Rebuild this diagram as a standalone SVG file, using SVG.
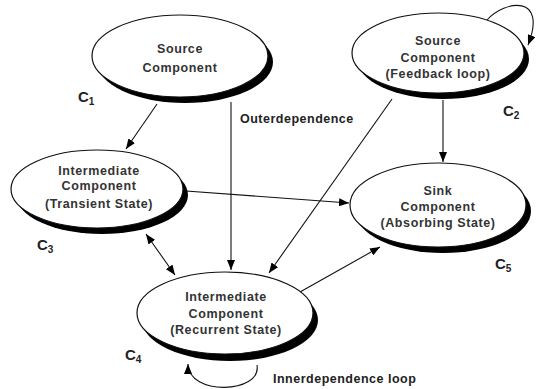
<svg xmlns="http://www.w3.org/2000/svg" width="536" height="389" viewBox="0 0 536 389">
<defs>
<marker id="ah" viewBox="0 0 10 8" refX="10" refY="4" markerWidth="10" markerHeight="8" markerUnits="userSpaceOnUse" orient="auto-start-reverse">
<path d="M0,0 L10,4 L0,8 Z" fill="#000"/>
</marker>
<style>
.sh{fill:#000}
.el{fill:#fff;stroke:#111;stroke-width:1.2}
.t{font-family:"Liberation Sans",Arial,sans-serif;font-size:12.5px;font-weight:bold;fill:#333;text-anchor:middle;letter-spacing:0.6px}
.lb{font-family:"Liberation Sans",Arial,sans-serif;font-size:12.5px;font-weight:bold;fill:#222;letter-spacing:0.5px}
.c{font-family:"Liberation Sans",Arial,sans-serif;font-size:15px;font-weight:bold;fill:#222}
.cs{font-size:10px}
.ln{fill:none;stroke:#111;stroke-width:1.1}
</style>
</defs>
<rect width="536" height="389" fill="#fff"/>
<g id="connectors">
<path class="ln" d="M157,104 L126,149" marker-end="url(#ah)"/>
<path class="ln" d="M231,102 L231,270" marker-end="url(#ah)"/>
<path class="ln" d="M392,99 L269,273" marker-end="url(#ah)"/>
<path class="ln" d="M443,100 L443,162" marker-end="url(#ah)"/>
<path class="ln" d="M186,191 L349,203" marker-end="url(#ah)"/>
<path class="ln" d="M146,234 L175,275" marker-start="url(#ah)" marker-end="url(#ah)"/>
<path class="ln" d="M300,292 L380,247" marker-end="url(#ah)"/>
<path class="ln" d="M257,365 C262,394 188,396 188,364" marker-end="url(#ah)"/>
<path class="ln" d="M487,20 C505,0 548,-6 528,45" marker-end="url(#ah)"/>
</g>
<g id="c1">
<ellipse class="sh" cx="185" cy="62" rx="88" ry="41"/>
<ellipse class="el" cx="180" cy="56" rx="88" ry="41"/>
<text class="t" x="180" y="53">Source</text>
<text class="t" x="180" y="72">Component</text>
<text class="c" x="78" y="102">C<tspan class="cs" dy="3">1</tspan></text>
</g>
<g id="c2">
<ellipse class="sh" cx="443" cy="59" rx="86" ry="40"/>
<ellipse class="el" cx="438" cy="53" rx="86" ry="40"/>
<text class="t" x="438" y="45">Source</text>
<text class="t" x="438" y="62">Component</text>
<text class="t" x="438" y="78">(Feedback loop)</text>
<text class="c" x="503" y="116">C<tspan class="cs" dy="3">2</tspan></text>
</g>
<g id="c3">
<ellipse class="sh" cx="102" cy="195" rx="86" ry="39"/>
<ellipse class="el" cx="97" cy="189" rx="86" ry="39"/>
<text class="t" x="99" y="175">Intermediate</text>
<text class="t" x="99" y="190">Component</text>
<text class="t" x="99" y="208">(Transient State)</text>
<text class="c" x="37" y="250">C<tspan class="cs" dy="3">3</tspan></text>
</g>
<g id="c5">
<ellipse class="sh" cx="443" cy="211" rx="88" ry="42"/>
<ellipse class="el" cx="438" cy="205" rx="88" ry="42"/>
<text class="t" x="438" y="195">Sink</text>
<text class="t" x="438" y="211">Component</text>
<text class="t" x="438" y="227">(Absorbing State)</text>
<text class="c" x="495" y="269">C<tspan class="cs" dy="3">5</tspan></text>
</g>
<g id="c4">
<ellipse class="sh" cx="230" cy="320" rx="88" ry="41"/>
<ellipse class="el" cx="225" cy="313" rx="88" ry="41"/>
<text class="t" x="226" y="301">Intermediate</text>
<text class="t" x="226" y="318">Component</text>
<text class="t" x="226" y="334">(Recurrent State)</text>
<text class="c" x="125" y="360">C<tspan class="cs" dy="3">4</tspan></text>
</g>
<g id="labels">
<text class="lb" x="240" y="123">Outerdependence</text>
<text class="lb" x="273" y="383">Innerdependence loop</text>
</g>
</svg>
